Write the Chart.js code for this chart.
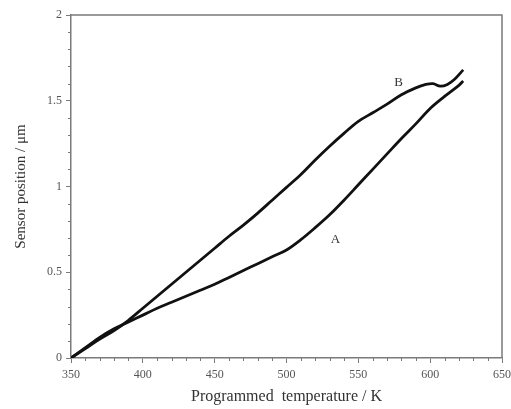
<!DOCTYPE html>
<html>
<head>
<meta charset="utf-8">
<script src="https://cdn.jsdelivr.net/npm/chart.js@4"></script>
<style>
  html, body { margin: 0; padding: 0; background: #fff; }
  #wrap { width: 511px; height: 409px; }
</style>
</head>
<body>
<div id="wrap"><canvas id="sensorChart" width="511" height="409"></canvas></div>
<script>
// Courbe A (chauffage) : température programmée (K) -> position du capteur (µm)
const tempA = [350, 360, 370, 380, 390, 400, 410, 420, 430, 440, 450, 460, 470, 480, 490,
               500, 510, 520, 530, 540, 550, 560, 570, 580, 590, 600, 610, 620, 623];
const posA  = [0, 0.06, 0.12, 0.17, 0.21, 0.25, 0.29, 0.325, 0.36, 0.395, 0.43, 0.47, 0.51, 0.55, 0.59,
               0.63, 0.69, 0.76, 0.835, 0.92, 1.01, 1.10, 1.19, 1.28, 1.365, 1.455, 1.525, 1.59, 1.615];

// Courbe B
const tempB = [350, 360, 370, 380, 390, 400, 410, 420, 430, 440, 450, 460, 470, 480, 490,
               500, 510, 520, 530, 540, 550, 560, 570, 580, 590, 597, 602, 607, 612, 617, 623];
const posB  = [0, 0.055, 0.11, 0.16, 0.22, 0.29, 0.36, 0.43, 0.50, 0.57, 0.64, 0.71, 0.775, 0.845, 0.92,
               0.995, 1.07, 1.155, 1.235, 1.31, 1.38, 1.43, 1.48, 1.535, 1.575, 1.595, 1.60, 1.585, 1.595, 1.625, 1.68];

// Étiquettes des courbes (position en unités des données)
const curveLabels = ['A', 'B'];
const labelTemps = [534, 578];
const labelPos = [0.69, 1.605];

const xTicksMajor = [350, 400, 450, 500, 550, 600, 650];
const yTicksMajor = [0, 0.5, 1, 1.5, 2];

const axisColor = '#7a7a7a';
const serif = "'Liberation Serif', 'DejaVu Serif', serif";

function toPoints(xs, ys) {
    return xs.map((x, i) => ({ x: x, y: ys[i] }));
}

// Cadre + petites graduations + lettres A / B
const framePlugin = {
    id: 'frame',
    afterDraw(chart) {
        const ctx = chart.ctx;
        const a = chart.chartArea;
        const xs = chart.scales.x, ys = chart.scales.y;
        ctx.save();
        ctx.strokeStyle = axisColor;
        ctx.lineWidth = 1.5;
        ctx.beginPath();
        ctx.moveTo(a.left, a.top);
        ctx.lineTo(a.right, a.top);
        ctx.lineTo(a.right, a.bottom);
        ctx.stroke();

        // graduations mineures (tous les 10 K et tous les 0,1 µm)
        ctx.lineWidth = 1;
        ctx.beginPath();
        for (let t = 360; t < 650; t += 10) {
            if (t % 50 === 0) continue;
            const px = Math.round(xs.getPixelForValue(t)) + 0.5;
            ctx.moveTo(px, a.bottom);
            ctx.lineTo(px, a.bottom + 3);
        }
        for (let k = 1; k < 20; k++) {
            if (k % 5 === 0) continue;
            const py = Math.round(ys.getPixelForValue(k / 10)) + 0.5;
            ctx.moveTo(a.left, py);
            ctx.lineTo(a.left - 3, py);
        }
        ctx.stroke();

        ctx.fillStyle = '#333';
        ctx.font = '13px ' + serif;
        ctx.textAlign = 'center';
        ctx.textBaseline = 'middle';
        curveLabels.forEach((txt, i) => {
            ctx.fillText(txt, xs.getPixelForValue(labelTemps[i]), ys.getPixelForValue(labelPos[i]));
        });
        ctx.restore();
    }
};

new Chart(document.getElementById('sensorChart'), {
    type: 'line',
    data: {
        datasets: [
            { label: 'A', data: toPoints(tempA, posA) },
            { label: 'B', data: toPoints(tempB, posB) }
        ]
    },
    options: {
        responsive: false,
        animation: false,
        layout: { padding: { top: 15, right: 9, left: 0, bottom: 0 } },
        elements: {
            line: { borderColor: '#111', borderWidth: 2.8, tension: 0.35, fill: false },
            point: { radius: 0 }
        },
        plugins: {
            legend: { display: false },
            tooltip: { enabled: false }
        },
        scales: {
            x: {
                type: 'linear',
                min: 350,
                max: 650,
                afterBuildTicks: (s) => { s.ticks = xTicksMajor.map(v => ({ value: v })); },
                afterFit: (s) => { s.height = 51; s.paddingRight = 0; s.paddingLeft = 0; },
                border: { color: axisColor, width: 1.5 },
                grid: { drawOnChartArea: false, tickLength: 5, color: axisColor },
                ticks: {
                    color: '#555',
                    padding: 5,
                    maxRotation: 0,
                    font: { family: serif, size: 12 }
                },
                title: {
                    display: true,
                    text: 'Programmed  temperature / K',
                    color: '#333',
                    padding: { top: 0, bottom: 3 },
                    font: { family: serif, size: 16 }
                }
            },
            y: {
                type: 'linear',
                min: 0,
                max: 2,
                afterBuildTicks: (s) => { s.ticks = yTicksMajor.map(v => ({ value: v })); },
                afterFit: (s) => { s.width = 71; s.paddingTop = 0; s.paddingBottom = 0; },
                border: { color: axisColor, width: 1.5 },
                grid: { drawOnChartArea: false, tickLength: 5, color: axisColor },
                ticks: {
                    color: '#555',
                    padding: 4,
                    font: { family: serif, size: 12 },
                    callback: (v) => String(v)
                },
                title: {
                    display: true,
                    text: 'Sensor position / μm',
                    color: '#333',
                    padding: { top: 12, bottom: 4 },
                    font: { family: serif, size: 15 }
                }
            }
        }
    },
    plugins: [framePlugin]
});
</script>
</body>
</html>
